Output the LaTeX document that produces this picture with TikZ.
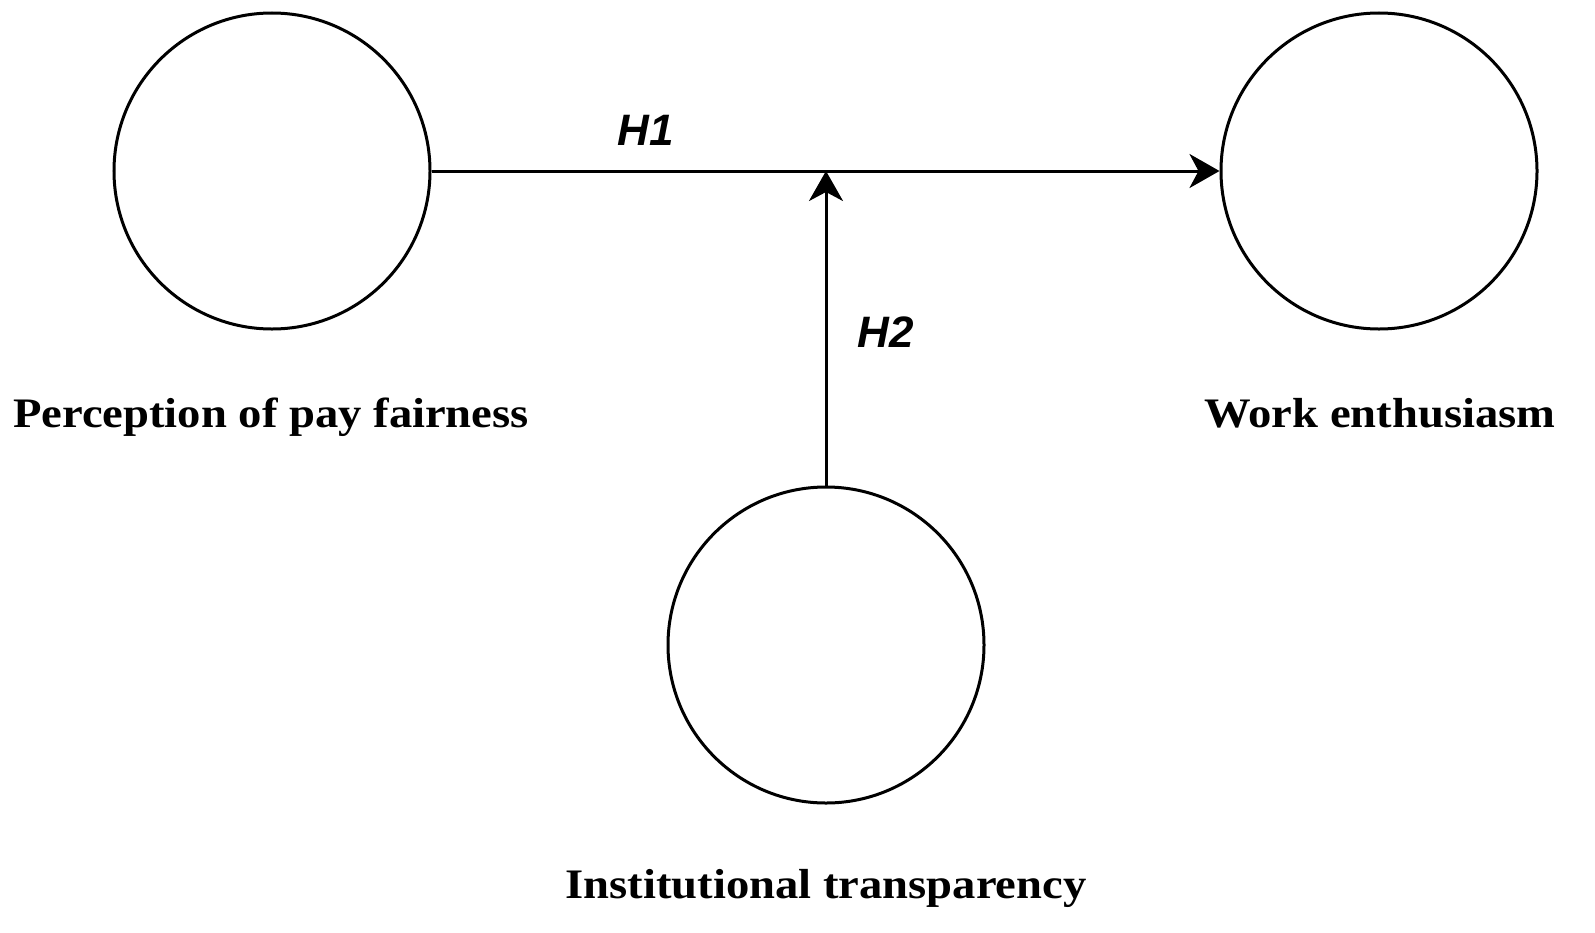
\documentclass[tikz,border=0pt]{standalone}
\usepackage{fontspec}
\setmainfont{Liberation Serif}
\newfontfamily\labfont[FakeStretch=1.11]{Liberation Serif}
\newfontfamily\hfont{Liberation Sans}
\usetikzlibrary{arrows.meta}
\begin{document}
\begin{tikzpicture}[x=1bp,y=-1bp,
  var/.style={circle,draw,line width=3bp,minimum size=316bp,inner sep=0pt},
  lab/.style={font=\labfont\fontsize{42bp}{48bp}\selectfont\bfseries,anchor=base,inner sep=0pt},
  hyp/.style={font=\hfont\fontsize{44bp}{50bp}\selectfont\bfseries\itshape,anchor=base,inner sep=0pt},
  conn/.style={line width=3bp,-{Stealth[length=30bp,width=34bp,inset=9bp]}}]
\useasboundingbox (0,0) rectangle (1595,932);
\node[var] (pf) at (272,171) {};
\node[var] (we) at (1379,171) {};
\node[var] (it) at (826,645) {};
\coordinate (mid) at (826,171);
\draw[conn] (pf.east) -- (we.west);
\draw[conn] (it.north) -- (mid);
\node[lab] (lpf) at (271,427) {Perception of pay fairness};
\node[lab] (lwe) at (1380,427) {Work enthusiasm};
\node[lab] (lit) at (826,898) {Institutional transparency};
\node[hyp] (h1) at (646,145) {H1};
\node[hyp] (h2) at (886,347) {H2};
\end{tikzpicture}
\end{document}
